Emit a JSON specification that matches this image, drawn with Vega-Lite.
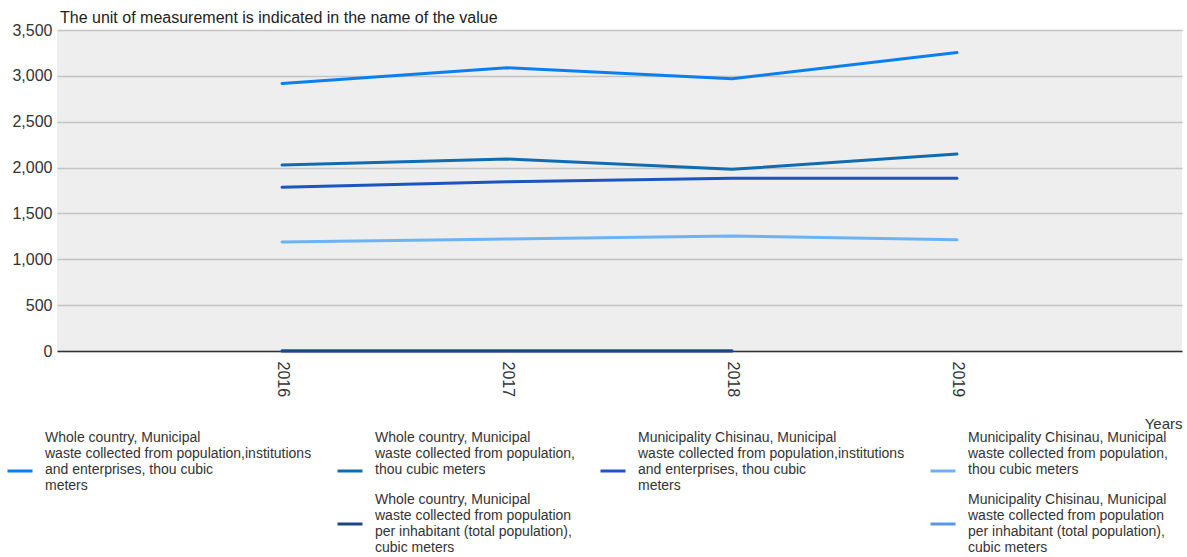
{
  "$schema": "https://vega.github.io/schema/vega-lite/v6.json",
  "width": 1125,
  "height": 321,
  "autosize": {"type": "none"},
  "padding": {"left": 57, "top": 30, "right": 5, "bottom": 206},
  "background": "white",
  "title": {
    "text": "The unit of measurement is indicated in the name of the value",
    "anchor": "start",
    "frame": "group",
    "dx": 3,
    "offset": -4,
    "font": "Liberation Sans",
    "fontSize": 16,
    "fontWeight": "normal",
    "color": "#222222"
  },
  "config": {
    "view": {"fill": "#eeeeee", "stroke": null},
    "font": "Liberation Sans"
  },
  "data": {
    "values": [
      {"series": "Municipality Chisinau, Municipal|waste collected from population|per inhabitant (total population),|cubic meters", "year": "2016", "value": 1.6},
      {"series": "Municipality Chisinau, Municipal|waste collected from population|per inhabitant (total population),|cubic meters", "year": "2017", "value": 1.6},
      {"series": "Municipality Chisinau, Municipal|waste collected from population|per inhabitant (total population),|cubic meters", "year": "2018", "value": 1.7},
      {"series": "Whole country, Municipal|waste collected from population,institutions|and enterprises, thou cubic|meters", "year": "2016", "value": 2917},
      {"series": "Whole country, Municipal|waste collected from population,institutions|and enterprises, thou cubic|meters", "year": "2017", "value": 3088},
      {"series": "Whole country, Municipal|waste collected from population,institutions|and enterprises, thou cubic|meters", "year": "2018", "value": 2968},
      {"series": "Whole country, Municipal|waste collected from population,institutions|and enterprises, thou cubic|meters", "year": "2019", "value": 3254},
      {"series": "Whole country, Municipal|waste collected from population,|thou cubic meters", "year": "2016", "value": 2028},
      {"series": "Whole country, Municipal|waste collected from population,|thou cubic meters", "year": "2017", "value": 2093},
      {"series": "Whole country, Municipal|waste collected from population,|thou cubic meters", "year": "2018", "value": 1981},
      {"series": "Whole country, Municipal|waste collected from population,|thou cubic meters", "year": "2019", "value": 2148},
      {"series": "Municipality Chisinau, Municipal|waste collected from population,institutions|and enterprises, thou cubic|meters", "year": "2016", "value": 1785},
      {"series": "Municipality Chisinau, Municipal|waste collected from population,institutions|and enterprises, thou cubic|meters", "year": "2017", "value": 1846},
      {"series": "Municipality Chisinau, Municipal|waste collected from population,institutions|and enterprises, thou cubic|meters", "year": "2018", "value": 1883},
      {"series": "Municipality Chisinau, Municipal|waste collected from population,institutions|and enterprises, thou cubic|meters", "year": "2019", "value": 1884},
      {"series": "Municipality Chisinau, Municipal|waste collected from population,|thou cubic meters", "year": "2016", "value": 1188},
      {"series": "Municipality Chisinau, Municipal|waste collected from population,|thou cubic meters", "year": "2017", "value": 1221},
      {"series": "Municipality Chisinau, Municipal|waste collected from population,|thou cubic meters", "year": "2018", "value": 1254},
      {"series": "Municipality Chisinau, Municipal|waste collected from population,|thou cubic meters", "year": "2019", "value": 1214},
      {"series": "Whole country, Municipal|waste collected from population|per inhabitant (total population),|cubic meters", "year": "2016", "value": 0.8},
      {"series": "Whole country, Municipal|waste collected from population|per inhabitant (total population),|cubic meters", "year": "2017", "value": 0.8},
      {"series": "Whole country, Municipal|waste collected from population|per inhabitant (total population),|cubic meters", "year": "2018", "value": 0.8}
    ]
  },
  "mark": {"type": "line", "strokeWidth": 3, "strokeCap": "round"},
  "encoding": {
    "x": {
      "field": "year",
      "type": "ordinal",
      "scale": {"type": "point", "padding": 1, "domain": ["2016", "2017", "2018", "2019"]},
      "axis": {
        "title": "Years",
        "titleFont": "Liberation Sans",
        "titleFontSize": 15,
        "titleFontWeight": "normal",
        "titleColor": "#333333",
        "titleAnchor": "end",
        "titleAlign": "right",
        "titleBaseline": "alphabetic",
        "titleX": 1125,
        "titleY": 77,
        "labelAngle": 90,
        "labelAlign": "left",
        "labelBaseline": "middle",
        "labelPadding": 10,
        "labelFontSize": 16,
        "labelColor": "#333333",
        "ticks": false,
        "grid": false,
        "domain": true,
        "domainColor": "#333333",
        "domainWidth": 1.5
      }
    },
    "y": {
      "field": "value",
      "type": "quantitative",
      "scale": {"domain": [0, 3500], "nice": false},
      "axis": {
        "title": null,
        "values": [0, 500, 1000, 1500, 2000, 2500, 3000, 3500],
        "format": ",.0f",
        "labelFontSize": 16,
        "labelColor": "#333333",
        "labelPadding": 5,
        "ticks": false,
        "domain": false,
        "grid": true,
        "gridColor": "#c4c4c4",
        "gridWidth": 1.5
      }
    },
    "color": {
      "field": "series",
      "type": "nominal",
      "scale": {
        "domain": [
          "Whole country, Municipal|waste collected from population,institutions|and enterprises, thou cubic|meters",
          "Whole country, Municipal|waste collected from population,|thou cubic meters",
          "Municipality Chisinau, Municipal|waste collected from population,institutions|and enterprises, thou cubic|meters",
          "Municipality Chisinau, Municipal|waste collected from population,|thou cubic meters",
          " ",
          "Whole country, Municipal|waste collected from population|per inhabitant (total population),|cubic meters",
          "  ",
          "Municipality Chisinau, Municipal|waste collected from population|per inhabitant (total population),|cubic meters"
        ],
        "range": ["#0b7ff2", "#0f6cb3", "#1d55c0", "#6cb3f5", "transparent", "#1e4589", "transparent", "#5a97e8"]
      },
      "legend": {
        "title": null,
        "orient": "none",
        "legendX": -51,
        "legendY": 427,
        "direction": "horizontal",
        "columns": 4,
        "gridAlign": "each",
        "columnPadding": 19,
        "rowPadding": 0,
        "padding": 0,
        "symbolType": "stroke",
        "symbolSize": 625,
        "symbolStrokeWidth": 3,
        "labelOffset": 11,
        "labelFont": "Liberation Sans",
        "labelFontSize": 14,
        "labelLineHeight": 16,
        "labelColor": "#333333",
        "labelLimit": 400,
        "labelExpr": "split(datum.label + (length(split(datum.label, '|')) < 4 ? '| ' : ''), '|')",
        "encode": {
          "labels": {
            "update": {
              "dy": {"signal": "datum.index < 4 ? -33 : -24"}
            }
          }
        }
      }
    }
  }
}
